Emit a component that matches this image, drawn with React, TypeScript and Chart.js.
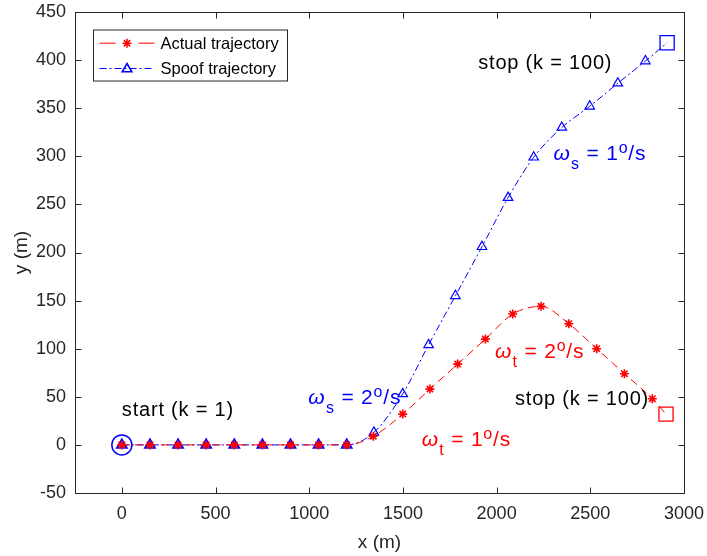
import React, { useEffect, useRef } from 'react';
import { Chart, registerables } from 'chart.js';

Chart.register(...registerables);

const FONT = '"Liberation Sans", Arial, Helvetica, sans-serif';
const AXIS_COLOR = '#262626';
const RED = '#ff0000';
const BLUE = '#0000ff';

const xTicks = [0, 500, 1000, 1500, 2000, 2500, 3000];
const yTicks = [-50, 0, 50, 100, 150, 200, 250, 300, 350, 400, 450];

// Actual trajectory (marker every 8 samples, final point k = 100 last)
const actualX = [0, 150, 300, 450, 600, 750, 900, 1050, 1200, 1342, 1499, 1644, 1792, 1940, 2086, 2237, 2385, 2534, 2682, 2831, 2904];
const actualY = [0, 0, 0, 0, 0, 0, 0, 0, 0, 9, 32, 58, 84, 110, 136, 144, 126, 100, 74, 48, 32];

// Spoof trajectory
const spoofX = [0, 150, 300, 450, 600, 750, 900, 1050, 1200, 1345, 1499, 1637, 1780, 1922, 2061, 2198, 2348, 2497, 2647, 2794, 2910];
const spoofY = [0, 0, 0, 0, 0, 0, 0, 0, 0, 13, 53, 104, 155, 206, 257, 299, 330, 352, 376, 399, 418];

const legendLabels = ['Actual trajectory', 'Spoof trajectory'];

const noteTexts = ['start (k = 1)', 'stop (k = 100)', 'stop (k = 100)'];
const noteX = [0, 1902, 2098];
const noteY = [30, 391, 41];

const rateSubs = ['s', 's', 't', 't'];
const rateValues = ['2', '1', '2', '1'];
const rateX = [995, 2303, 1991, 1600];
const rateY = [43, 296, 90.5, -0.7];
const rateColors = [BLUE, BLUE, RED, RED];

const toPoints = (xs: number[], ys: number[]) => xs.map((x, i) => ({ x, y: ys[i] }));

function drawStar(ctx: CanvasRenderingContext2D, cx: number, cy: number, r: number) {
  ctx.beginPath();
  for (let k = 0; k < 4; k++) {
    const a = (k * Math.PI) / 4;
    ctx.moveTo(cx + Math.cos(a) * r, cy + Math.sin(a) * r);
    ctx.lineTo(cx - Math.cos(a) * r, cy - Math.sin(a) * r);
  }
  ctx.stroke();
}

function drawTriangle(ctx: CanvasRenderingContext2D, cx: number, cy: number, r: number) {
  ctx.beginPath();
  for (let k = 0; k < 3; k++) {
    const a = (k * 2 * Math.PI) / 3;
    const px = cx + Math.sin(a) * r;
    const py = cy - Math.cos(a) * r;
    if (k === 0) ctx.moveTo(px, py);
    else ctx.lineTo(px, py);
  }
  ctx.closePath();
  ctx.stroke();
}

const zeroPadding = (s: any) => {
  s.paddingTop = 0;
  s.paddingBottom = 0;
  s.paddingLeft = 0;
  s.paddingRight = 0;
};

const decorPlugin = {
  id: 'decor',
  afterDatasetsDraw(chart: any) {
    const { ctx, chartArea: ca, scales } = chart;
    const xs = scales.x;
    const ys = scales.y;
    ctx.save();
    ctx.strokeStyle = AXIS_COLOR;
    ctx.lineWidth = 1;
    ctx.setLineDash([]);
    const L = Math.round(ca.left) + 0.5;
    const R = Math.round(ca.right) + 0.5;
    const T = Math.round(ca.top) + 0.5;
    const B = Math.round(ca.bottom) + 0.5;
    ctx.strokeRect(L, T, R - L, B - T);
    const tl = 6;
    ctx.beginPath();
    xTicks.forEach((v) => {
      const p = Math.round(xs.getPixelForValue(v)) + 0.5;
      ctx.moveTo(p, B);
      ctx.lineTo(p, B - tl);
      ctx.moveTo(p, T);
      ctx.lineTo(p, T + tl);
    });
    yTicks.forEach((v) => {
      const p = Math.round(ys.getPixelForValue(v)) + 0.5;
      ctx.moveTo(L, p);
      ctx.lineTo(L + tl, p);
      ctx.moveTo(R, p);
      ctx.lineTo(R - tl, p);
    });
    ctx.stroke();
    ctx.restore();
  },
  afterDraw(chart: any) {
    const { ctx, chartArea: ca, scales } = chart;
    const xs = scales.x;
    const ys = scales.y;
    ctx.save();
    const c: any = ctx;

    // plain annotations
    c.letterSpacing = '0.8px';
    ctx.fillStyle = '#000000';
    ctx.textAlign = 'left';
    ctx.textBaseline = 'alphabetic';
    ctx.font = `20px ${FONT}`;
    noteTexts.forEach((t, i) => {
      ctx.fillText(t, xs.getPixelForValue(noteX[i]), ys.getPixelForValue(noteY[i]));
    });

    // turn-rate annotations
    rateSubs.forEach((sub, i) => {
      let cx = xs.getPixelForValue(rateX[i]);
      const base = ys.getPixelForValue(rateY[i]);
      ctx.fillStyle = rateColors[i];
      ctx.font = `italic 21px ${FONT}`;
      ctx.fillText('\u03c9', cx, base);
      cx += ctx.measureText('\u03c9').width + 0.5;
      ctx.font = `16px ${FONT}`;
      ctx.fillText(sub, cx, base + 9);
      cx += ctx.measureText(sub).width;
      ctx.font = `21px ${FONT}`;
      const mid = ' = ' + rateValues[i];
      ctx.fillText(mid, cx, base);
      cx += ctx.measureText(mid).width;
      ctx.font = `16px ${FONT}`;
      ctx.fillText('o', cx, base - 7);
      cx += ctx.measureText('o').width;
      ctx.font = `21px ${FONT}`;
      ctx.fillText('/s', cx, base);
    });
    c.letterSpacing = '0px';

    // legend
    const bx = Math.round(ca.left) + 18.5;
    const by = Math.round(ca.top) + 18;
    const bw = 194;
    const bh = 51;
    ctx.fillStyle = '#ffffff';
    ctx.fillRect(bx, by, bw, bh);
    ctx.strokeStyle = AXIS_COLOR;
    ctx.lineWidth = 1;
    ctx.strokeRect(bx, by, bw, bh);
    const rows = [by + 13.2, by + 38.5];
    const lx0 = bx + 6;
    const lx1 = bx + 61;
    const mx = bx + 33.5;
    ctx.font = `16.5px ${FONT}`;
    ctx.textBaseline = 'middle';
    // actual
    ctx.strokeStyle = RED;
    ctx.lineWidth = 1;
    ctx.beginPath();
    ctx.moveTo(lx0, rows[0]);
    ctx.lineTo(lx0 + 16, rows[0]);
    ctx.moveTo(lx1 - 16, rows[0]);
    ctx.lineTo(lx1, rows[0]);
    ctx.stroke();
    ctx.lineWidth = 1.5;
    drawStar(ctx, mx, rows[0], 4.5);
    // spoof
    ctx.strokeStyle = BLUE;
    ctx.lineWidth = 1;
    ctx.setLineDash([7, 3, 2, 3]);
    ctx.beginPath();
    ctx.moveTo(lx0, rows[1]);
    ctx.lineTo(lx1, rows[1]);
    ctx.stroke();
    ctx.setLineDash([]);
    ctx.lineWidth = 1.6;
    drawTriangle(ctx, mx, rows[1] + 0.5, 5.5);
    ctx.fillStyle = '#000000';
    ctx.fillText(legendLabels[0], bx + 67, rows[0] + 1);
    ctx.fillText(legendLabels[1], bx + 67, rows[1] + 1);
    ctx.restore();
  },
};

export default function App() {
  const canvasRef = useRef<HTMLCanvasElement | null>(null);

  useEffect(() => {
    if (!canvasRef.current) return;
    const lastA = actualX.length - 1;
    const lastS = spoofX.length - 1;
    const chart = new Chart(canvasRef.current, {
      type: 'line',
      data: {
        datasets: [
          {
            label: legendLabels[0],
            data: toPoints(actualX, actualY),
            borderColor: RED,
            borderWidth: 1,
            borderDash: [8, 5],
            cubicInterpolationMode: 'monotone',
            fill: false,
            pointStyle: 'star',
            pointRadius: (c: any) => (c.dataIndex === lastA ? 0 : 4.5),
            pointBorderColor: RED,
            pointBackgroundColor: RED,
            pointBorderWidth: 1.6,
          },
          {
            label: legendLabels[1],
            data: toPoints(spoofX, spoofY),
            borderColor: BLUE,
            borderWidth: 1,
            borderDash: [7, 3, 2, 3],
            cubicInterpolationMode: 'monotone',
            fill: false,
            pointStyle: 'triangle',
            pointRadius: (c: any) => (c.dataIndex === lastS ? 0 : 5.5),
            pointBorderColor: BLUE,
            pointBackgroundColor: 'rgba(0,0,0,0)',
            pointBorderWidth: (c: any) => (spoofY[c.dataIndex] === 0 ? 2 : 1.2),
          },
          {
            label: 'start',
            data: [{ x: spoofX[0], y: spoofY[0] }],
            showLine: false,
            pointStyle: 'circle',
            pointRadius: 10,
            pointBorderColor: BLUE,
            pointBackgroundColor: 'rgba(0,0,0,0)',
            pointBorderWidth: 1.5,
          },
          {
            label: 'stop actual',
            data: [{ x: actualX[lastA], y: actualY[lastA] }],
            showLine: false,
            pointStyle: 'rect',
            pointRadius: 10,
            pointBorderColor: RED,
            pointBackgroundColor: 'rgba(0,0,0,0)',
            pointBorderWidth: 1.3,
          },
          {
            label: 'stop spoof',
            data: [{ x: spoofX[lastS], y: spoofY[lastS] }],
            showLine: false,
            pointStyle: 'rect',
            pointRadius: 10,
            pointBorderColor: BLUE,
            pointBackgroundColor: 'rgba(0,0,0,0)',
            pointBorderWidth: 1.3,
          },
        ],
      },
      options: {
        responsive: false,
        animation: false,
        events: [],
        layout: { padding: { top: 12, right: 23, bottom: 0, left: 0 } },
        plugins: {
          legend: { display: false },
          tooltip: { enabled: false },
        },
        scales: {
          x: {
            type: 'linear',
            min: -250,
            max: 3000,
            afterBuildTicks: (s: any) => {
              s.ticks = xTicks.map((v) => ({ value: v }));
            },
            afterFit: (s: any) => {
              s.height = 63;
              zeroPadding(s);
            },
            grid: { display: false, drawTicks: false },
            border: { display: false },
            ticks: {
              autoSkip: false,
              maxRotation: 0,
              padding: 10,
              color: AXIS_COLOR,
              font: { family: FONT, size: 18 },
              callback: (v: any) => String(v),
            },
            title: {
              display: true,
              text: 'x (m)',
              color: AXIS_COLOR,
              font: { family: FONT, size: 19 },
              padding: { top: 0, bottom: 2 },
            },
          },
          y: {
            type: 'linear',
            min: -50,
            max: 450,
            afterBuildTicks: (s: any) => {
              s.ticks = yTicks.map((v) => ({ value: v }));
            },
            afterFit: (s: any) => {
              s.width = 75;
              zeroPadding(s);
            },
            grid: { display: false, drawTicks: false },
            border: { display: false },
            ticks: {
              autoSkip: false,
              padding: 9,
              color: AXIS_COLOR,
              font: { family: FONT, size: 18 },
              callback: (v: any) => String(v),
            },
            title: {
              display: true,
              text: 'y (m)',
              color: AXIS_COLOR,
              font: { family: FONT, size: 19 },
              padding: { top: 10, bottom: 0 },
            },
          },
        },
      },
      plugins: [decorPlugin],
    } as any);
    return () => chart.destroy();
  }, []);

  return (
    <div style={{ position: 'absolute', left: 0, top: 0, width: 707, height: 556, background: '#ffffff' }}>
      <canvas ref={canvasRef} width={707} height={556} style={{ display: 'block' }} />
    </div>
  );
}
